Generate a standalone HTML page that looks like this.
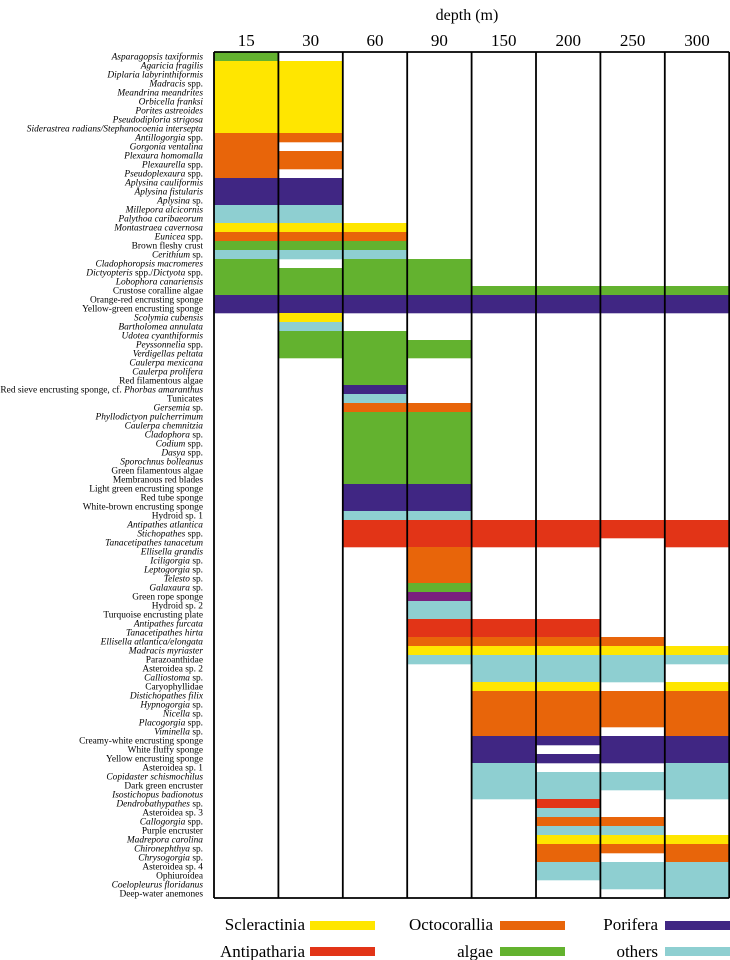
<!DOCTYPE html>
<html><head><meta charset="utf-8"><style>
html,body{margin:0;padding:0;background:#fff;width:730px;height:960px;overflow:hidden}
svg{display:block;font-family:"Liberation Serif",serif}
</style></head><body>
<svg id="chart" width="730" height="960" xmlns="http://www.w3.org/2000/svg">
<text x="467" y="20" font-size="16" text-anchor="middle">depth (m)</text>
<g id="cells"></g>
<g id="grid"></g>
<g id="xticks"></g>
<g id="ylabels"></g>
<g id="legend"></g>
</svg>
<script>
const depths = ["15","30","60","90","150","200","250","300"];
const species = [
"*Asparagopsis taxiformis*","*Agaricia fragilis*","*Diplaria labyrinthiformis*","*Madracis* spp.","*Meandrina meandrites*","*Orbicella franksi*","*Porites astreoides*","*Pseudodiploria strigosa*","*Siderastrea radians/Stephanocoenia intersepta*",
"*Antillogorgia* spp.","*Gorgonia ventalina*","*Plexaura homomalla*","*Plexaurella* spp.","*Pseudoplexaura* spp.",
"*Aplysina cauliformis*","*Aplysina fistularis*","*Aplysina* sp.","*Millepora alcicornis*","*Palythoa caribaeorum*",
"*Montastraea cavernosa*","*Eunicea* spp.","Brown fleshy crust","*Cerithium* sp.","*Cladophoropsis macromeres*","*Dictyopteris* spp./*Dictyota* spp.","*Lobophora canariensis*","Crustose coralline algae",
"Orange-red encrusting sponge","Yellow-green encrusting sponge","*Scolymia cubensis*","*Bartholomea annulata*","*Udotea cyanthiformis*","*Peyssonnelia* spp.","*Verdigellas peltata*","*Caulerpa mexicana*","*Caulerpa prolifera*","Red filamentous algae",
"Red sieve encrusting sponge, cf. *Phorbas amaranthus*","Tunicates","*Gersemia* sp.","*Phyllodictyon pulcherrimum*","*Caulerpa chemnitzia*","*Cladophora* sp.","*Codium* spp.","*Dasya* spp.","*Sporochnus bolleanus*","Green filamentous algae","Membranous red blades",
"Light green encrusting sponge","Red tube sponge","White-brown encrusting sponge","Hydroid sp. 1","*Antipathes atlantica*","*Stichopathes* spp.","*Tanacetipathes tanacetum*","*Ellisella grandis*","*Iciligorgia* sp.","*Leptogorgia* sp.","*Telesto* sp.","*Galaxaura* sp.","Green rope sponge","Hydroid sp. 2","Turquoise encrusting plate",
"*Antipathes furcata*","*Tanacetipathes hirta*","*Ellisella atlantica/elongata*","*Madracis myriaster*","Parazoanthidae","Asteroidea sp. 2","*Calliostoma* sp.","Caryophyllidae","*Distichopathes filix*","*Hypnogorgia* sp.","*Nicella* sp.","*Placogorgia* spp.","*Viminella* sp.",
"Creamy-white encrusting sponge","White fluffy sponge","Yellow encrusting sponge","Asteroidea sp. 1","*Copidaster schismochilus*","Dark green encruster","*Isostichopus badionotus*","*Dendrobathypathes* sp.","Asteroidea sp. 3","*Callogorgia* spp.","Purple encruster","*Madrepora carolina*","*Chironephthya* sp.","*Chrysogorgia* sp.","Asteroidea sp. 4","Ophiuroidea","*Coelopleurus floridanus*","Deep-water anemones"];
const groupList = ["a","s","s","s","s","s","s","s","s","o","o","o","o","o","p","p","p","x","x","s","o","a","x","a","a","a","a","p","p","s","x","a","a","a","a","a","a","p","x","o","a","a","a","a","a","a","a","a","p","p","p","x","r","r","r","o","o","o","o","a","v","x","x","r","r","o","s","x","x","x","s","o","o","o","o","o","p","p","p","x","x","x","x","r","x","o","x","s","o","o","x","x","x","x"];
const presence = ["10000000","11000000","11000000","11000000","11000000","11000000","11000000","11000000","11000000",
"11000000","10000000","11000000","11000000","10000000","11000000","11000000","11000000","11000000","11000000",
"11100000","11100000","11100000","11100000","10110000","11110000","11110000","11111111","11111111","11111111",
"01000000","01000000","01100000","01110000","01110000","00100000","00100000","00100000","00100000","00100000",
"00110000","00110000","00110000","00110000","00110000","00110000","00110000","00110000","00110000",
"00110000","00110000","00110000","00110000","00111111","00111111","00111101",
"00010000","00010000","00010000","00010000","00010000","00010000","00010000","00010000",
"00011100","00011100","00011110","00011111","00011111","00001110","00001110","00001101",
"00001111","00001111","00001111","00001111","00001101","00001111","00001011","00001111",
"00001001","00001111","00001111","00001101","00000100","00000100","00000110","00000110",
"00000111","00000111","00000101","00000111","00000111","00000011","00000001"];
const legendNames = ["Scleractinia","Octocorallia","Porifera","Antipatharia","algae","others"];
const legendKeys = ["s","o","p","r","a","x"];
</script>
<script>
const colors = {s:"#ffe600",o:"#e8650a",p:"#402683",r:"#e23417",a:"#63b22f",x:"#8ecfd1",v:"#7a1f7e"};
const NS="http://www.w3.org/2000/svg";
const X0=214, CW=64.4, Y0=52, RH=9;
const xScale = i => X0 + i*CW;
const yScale = r => Y0 + r*RH;
const cells=document.getElementById('cells');
presence.forEach((p,r)=>{
  for(let c=0;c<depths.length;c++){
    if(p[c]!=="1") continue;
    const el=document.createElementNS(NS,'rect');
    
    
    el.setAttribute('x',xScale(c)); el.setAttribute('y',yScale(r));
    el.setAttribute('width',CW+0.5); el.setAttribute('height',RH+0.3);
    el.setAttribute('fill',colors[groupList[r]]);
    cells.appendChild(el);
  }
});
const grid=document.getElementById('grid');
const yEnd=yScale(species.length);
for(let c=0;c<=depths.length;c++){
  const l=document.createElementNS(NS,'line');
  
  
  l.setAttribute('x1',xScale(c));l.setAttribute('x2',xScale(c));
  l.setAttribute('y1',Y0);l.setAttribute('y2',yEnd);
  l.setAttribute('stroke','#000');l.setAttribute('stroke-width','1.8');
  grid.appendChild(l);
}
[Y0,yEnd].forEach(y=>{
  const l=document.createElementNS(NS,'line');
  
  
  l.setAttribute('x1',X0);l.setAttribute('x2',xScale(depths.length));
  l.setAttribute('y1',y);l.setAttribute('y2',y);
  l.setAttribute('stroke','#000');l.setAttribute('stroke-width','1.8');
  grid.appendChild(l);
});
const xt=document.getElementById('xticks');
depths.forEach((d,i)=>{
  const t=document.createElementNS(NS,'text');
  
  
  t.setAttribute('x',xScale(i)+CW/2);t.setAttribute('y',46);
  t.setAttribute('font-size','17');t.setAttribute('text-anchor','middle');
  t.textContent=d; xt.appendChild(t);
});
const yl=document.getElementById('ylabels');
species.forEach((s,r)=>{
  const t=document.createElementNS(NS,'text');
  
  
  t.setAttribute('x',0);t.setAttribute('y',0);
  t.setAttribute('font-size','9.4');t.setAttribute('text-anchor','end');
  t.setAttribute('transform','translate(203,'+(yScale(r)+7.3)+') scale(1,1)');
  s.split('*').forEach((part,i)=>{
    if(!part) return;
    const ts=document.createElementNS(NS,'tspan');
    if(i%2===1) ts.setAttribute('font-style','italic');
    ts.textContent=part; t.appendChild(ts);
  });
  yl.appendChild(t);
});
const lg=document.getElementById('legend');
const lx=[[305,310],[493,500],[658,665]], ly=[[930,921],[957,947]];
legendNames.forEach((n,i)=>{
  const col=i%3,row=Math.floor(i/3);
  const t=document.createElementNS(NS,'text');
  
  
  t.setAttribute('x',lx[col][0]);t.setAttribute('y',ly[row][0]);
  t.setAttribute('font-size','17');t.setAttribute('text-anchor','end');
  t.textContent=n; lg.appendChild(t);
  const r=document.createElementNS(NS,'rect');
  
  
  r.setAttribute('x',lx[col][1]);r.setAttribute('y',ly[row][1]);
  r.setAttribute('width',65);r.setAttribute('height',9);
  r.setAttribute('fill',colors[legendKeys[i]]);
  lg.appendChild(r);
});
</script>
</body></html>
